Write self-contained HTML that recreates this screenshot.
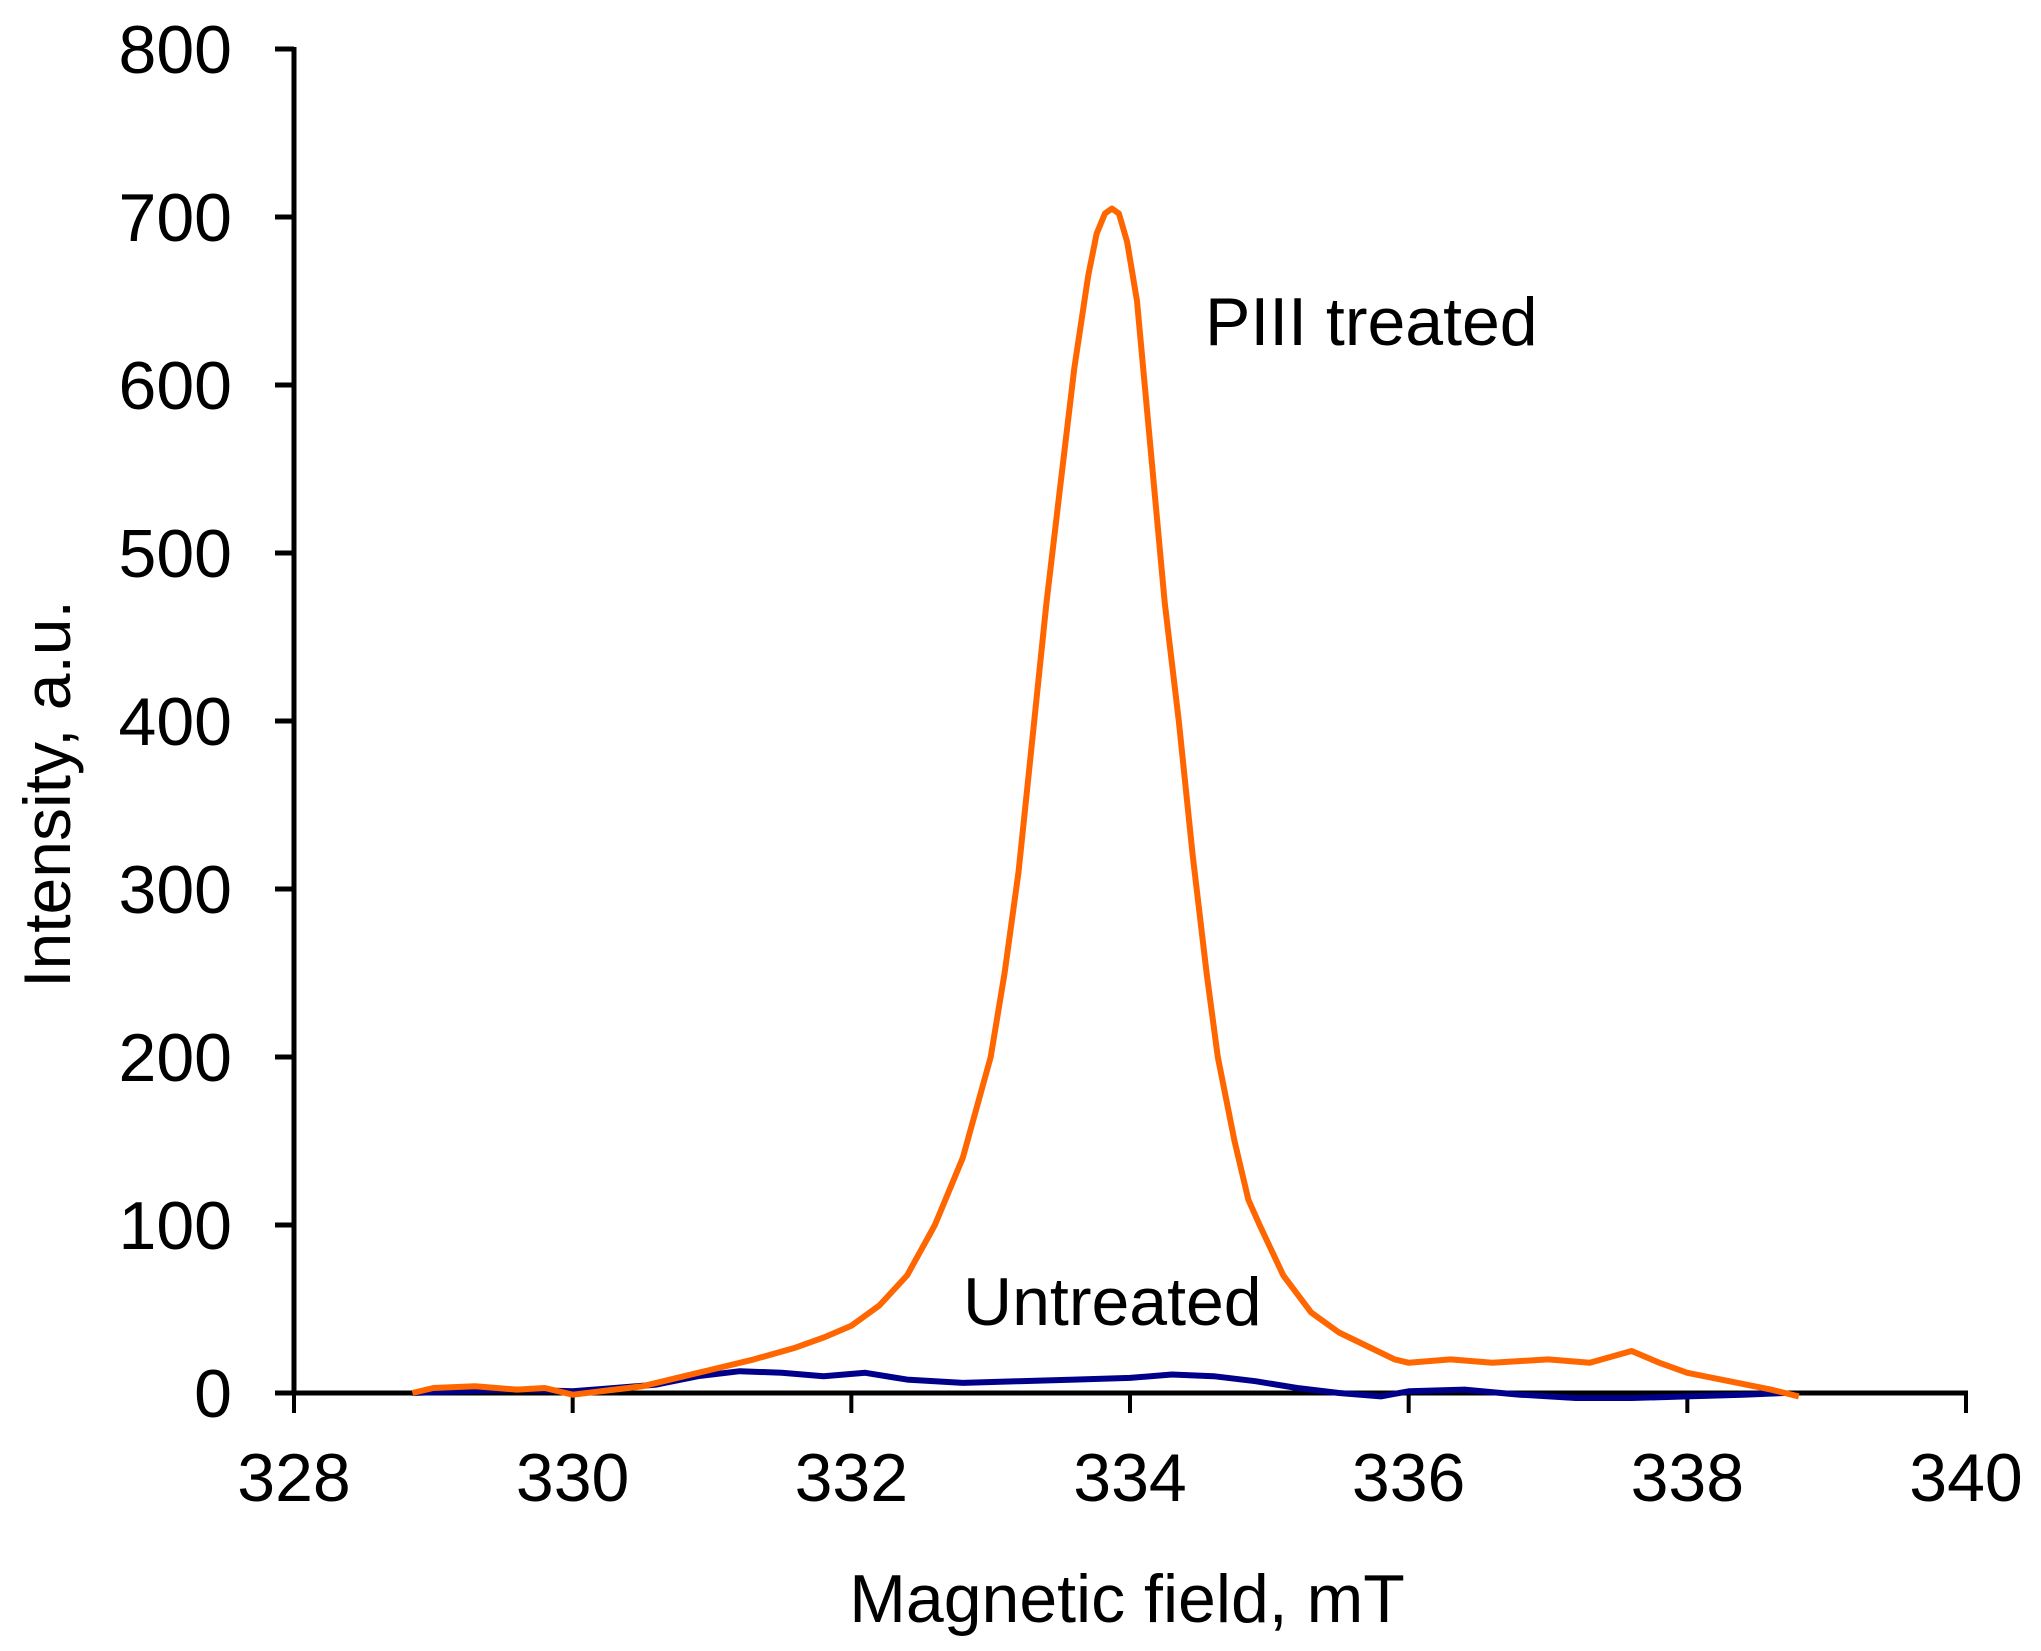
<!DOCTYPE html>
<html><head><meta charset="utf-8"><style>
html,body{margin:0;padding:0;background:#fff;}
svg{display:block;font-family:"Liberation Sans",Arial,sans-serif;}
</style></head><body>
<svg id="chart" width="2041" height="1651" viewBox="0 0 2041 1651">
<g id="axes"></g>
<g id="series"></g>
<text x="1205" y="345" font-size="68" fill="#000">PIII treated</text>
<text x="963" y="1325" font-size="68" fill="#000">Untreated</text>
<text x="1127" y="1622" font-size="68" text-anchor="middle" fill="#000">Magnetic field, mT</text>
<text transform="translate(70,794) rotate(-90)" font-size="66" text-anchor="middle" fill="#000">Intensity, a.u.</text>
</svg>
<script>
const xTicks = [328, 330, 332, 334, 336, 338, 340];
const yTicks = [0, 100, 200, 300, 400, 500, 600, 700, 800];
const piiiX = [328.85,329.0,329.3,329.6,329.8,330.0,330.3,330.5,330.8,331.0,331.3,331.6,331.8,332.0,332.2,332.4,332.6,332.8,333.0,333.1,333.2,333.3,333.4,333.5,333.6,333.7,333.76,333.82,333.87,333.92,333.98,334.05,334.15,334.25,334.35,334.45,334.55,334.63,334.75,334.85,334.93,335.1,335.3,335.5,335.7,335.9,336.0,336.3,336.6,337.0,337.3,337.6,337.8,338.0,338.3,338.6,338.8];
const piiiY = [0,3,4,2,3,-1,2,4,10,14,20,27,33,40,52,70,100,140,200,250,310,390,470,540,610,665,690,702,705,702,685,650,560,470,400,320,250,200,150,115,100,70,48,36,28,20,18,20,18,20,18,25,18,12,7,2,-2];
const untrX = [328.85,329.2,329.6,330.0,330.3,330.6,330.9,331.2,331.5,331.8,332.1,332.4,332.8,333.2,333.6,334.0,334.3,334.6,334.9,335.2,335.5,335.8,336.0,336.4,336.8,337.2,337.6,338.0,338.4,338.7];
const untrY = [0,1,2,1,3,5,10,13,12,10,12,8,6,7,8,9,11,10,7,3,0,-2,1,2,-1,-3,-3,-2,-1,0];

const X0=294, X1=1966, Y0=1393, Y1=49;
const sx = v => X0 + (v-328)/(340-328)*(X1-X0);
const sy = v => Y0 - v/800*(Y0-Y1);
const NS="http://www.w3.org/2000/svg";
const axes=document.getElementById('axes');
const series=document.getElementById('series');
function mk(tag, attrs, parent){const e=document.createElementNS(NS,tag);for(const k in attrs)e.setAttribute(k,attrs[k]);parent.appendChild(e);return e;}

const yAxis=mk('line',{x1:X0,y1:Y1-2,x2:X0,y2:Y0+2,stroke:'#000','stroke-width':5},axes);


const xAxis=mk('line',{x1:X0-18,y1:Y0,x2:X1+2,y2:Y0,stroke:'#000','stroke-width':5},axes);



yTicks.forEach(v=>{
  const t=mk('line',{x1:X0-19,y1:sy(v),x2:X0,y2:sy(v),stroke:'#000','stroke-width':5},axes);
  
  
  const l=mk('text',{x:232,y:sy(v)+24,'font-size':68,'text-anchor':'end',fill:'#000'},axes);
  l.textContent=v;
  
  
});
xTicks.forEach(v=>{
  const t=mk('line',{x1:sx(v),y1:Y0,x2:sx(v),y2:Y0+20,stroke:'#000','stroke-width':4},axes);
  
  
  const l=mk('text',{x:sx(v),y:1501,'font-size':68,'text-anchor':'middle',fill:'#000'},axes);
  l.textContent=v;
  
  
});

function line(xs,ys){
  return xs.map((x,i)=>(i?'L':'M')+sx(x).toFixed(1)+','+sy(ys[i]).toFixed(1)).join(' ');
}
const pu=mk('path',{d:line(untrX,untrY),fill:'none',stroke:'#00008b','stroke-width':6,'stroke-linejoin':'round'},series);


const pp=mk('path',{d:line(piiiX,piiiY),fill:'none',stroke:'#ff6600','stroke-width':6,'stroke-linejoin':'round'},series);


</script>
</body></html>
